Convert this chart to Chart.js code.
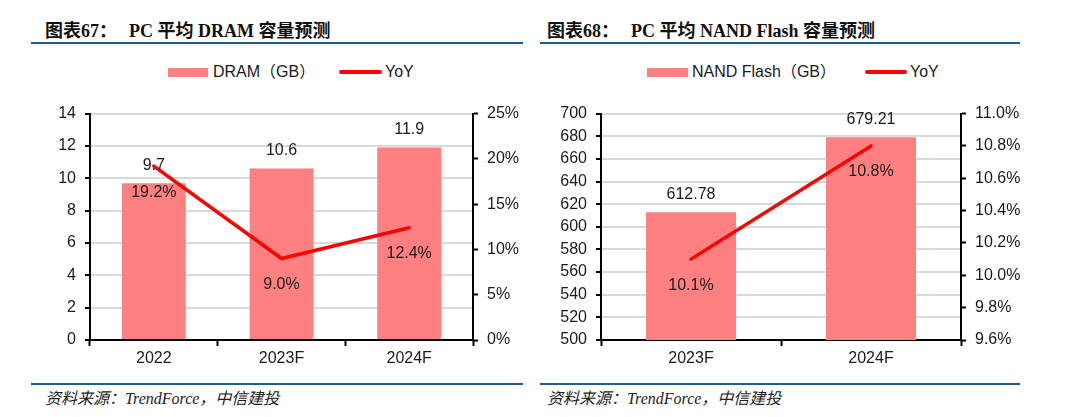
<!DOCTYPE html>
<html>
<head>
<meta charset="utf-8">
<script src="https://cdn.jsdelivr.net/npm/chart.js@4.4.0/dist/chart.umd.min.js"></script>
<style>
	body { margin: 0; width: 1080px; height: 417px; background: #fff; position: relative; overflow: hidden;
		font-family: "Liberation Sans", Arial, "Noto Sans CJK SC", sans-serif; color: #1a1a1a; }
	.title { position: absolute; top: 16px; font: bold 18px "Liberation Serif", "Noto Sans CJK SC", serif; color: #111; white-space: nowrap; }
	.title span { margin-right: 12px; }
	.rule { position: absolute; height: 2px; background: #1d5b91; }
	.src { position: absolute; top: 385px; font: italic 16px "Liberation Serif", "Noto Sans CJK SC", serif; color: #222; white-space: nowrap; }
	.lgBox { position: absolute; top: 68px; height: 9px; background: #ff8080; }
	.lgLine { position: absolute; top: 70px; height: 4px; border-radius: 2px; background: #ff0000; }
	.lgText { position: absolute; top: 63px; font-size: 16px; line-height: 18px; white-space: nowrap; color: #1a1a1a; }
	.chartBox { position: absolute; top: 95px; width: 540px; height: 280px; }
</style>
</head>
<body>

<!-- 图表67 -->
<div class="title" style="left:45px;"><span>图表67：</span>PC 平均 DRAM 容量预测</div>
<div class="rule" style="left:31px; width:492px; top:42px;"></div>
<div class="lgBox" style="left:168px; width:40px;"></div>
<div class="lgText" style="left:213px;">DRAM（GB）</div>
<div class="lgLine" style="left:339px; width:43px;"></div>
<div class="lgText" style="left:385px;">YoY</div>
<div class="chartBox" style="left:0px;"><canvas id="dramChart" width="540" height="280"></canvas></div>
<div class="rule" style="left:31px; width:492px; top:383px;"></div>
<div class="src" style="left:45px;">资料来源：TrendForce，中信建投</div>

<!-- 图表68 -->
<div class="title" style="left:547px;"><span>图表68：</span>PC 平均 NAND Flash 容量预测</div>
<div class="rule" style="left:540px; width:480px; top:42px;"></div>
<div class="lgBox" style="left:647px; width:41px;"></div>
<div class="lgText" style="left:692px;">NAND Flash（GB）</div>
<div class="lgLine" style="left:865px; width:42px;"></div>
<div class="lgText" style="left:910px;">YoY</div>
<div class="chartBox" style="left:540px;"><canvas id="nandChart" width="540" height="280"></canvas></div>
<div class="rule" style="left:540px; width:480px; top:383px;"></div>
<div class="src" style="left:547px;">资料来源：TrendForce，中信建投</div>

<script>
	// DRAM 데이터
	var dramYears = ["2022", "2023F", "2024F"];
	var dramGB = [9.7, 10.6, 11.9];
	var dramYoY = [19.2, 9.0, 12.4];

	// NAND Flash 데이터
	var nandYears = ["2023F", "2024F"];
	var nandGB = [612.78, 679.21];
	var nandYoY = [10.1, 10.8];

	var FONT = '"Liberation Sans", Arial, sans-serif';
	var BAR_COLOR = "#ff8080";
	var LINE_COLOR = "#ff0000";

	// 값 라벨 그리기 plugin
	var valueLabelPlugin = {
		id: "valueLabel",
		afterDatasetsDraw: function(chart) {
			var ctx = chart.ctx;
			var opt = chart.options.plugins.valueLabel;
			ctx.save();
			ctx.font = "16px " + FONT;
			ctx.fillStyle = "#1a1a1a";
			ctx.textAlign = "center";
			ctx.textBaseline = "middle";
			chart.data.datasets.forEach(function(ds, i) {
				var meta = chart.getDatasetMeta(i);
				meta.data.forEach(function(el, j) {
					if (ds.type === "line") {
						ctx.fillText(ds.data[j].toFixed(1) + "%", el.x, el.y + 26);
					} else {
						ctx.fillText(ds.data[j].toFixed(opt.barDigits), el.x, el.y - 18);
					} // end else
				}); // end forEach
			}); // end forEach
			ctx.restore();
		}
	}; // valueLabelPlugin

	// 막대 + 꺾은선 chart 생성
	function makeChart(canvasId, labels, barData, lineData, cfg) {
		return new Chart(document.getElementById(canvasId), {
			data: {
				labels: labels,
				datasets: [{
					type: "line",
					data: lineData,
					yAxisID: "y1",
					borderColor: LINE_COLOR,
					borderWidth: 3.5,
					borderCapStyle: "round",
					pointRadius: 0,
					tension: 0,
					order: 0
				}, {
					type: "bar",
					data: barData,
					yAxisID: "y",
					backgroundColor: BAR_COLOR,
					barPercentage: 1,
					categoryPercentage: 0.5,
					order: 1
				}]
			},
			options: {
				responsive: false,
				animation: false,
				devicePixelRatio: 1,
				layout: { padding: { top: 15, left: 0, right: 0, bottom: 0 } },
				plugins: {
					legend: { display: false },
					tooltip: { enabled: false },
					valueLabel: { barDigits: cfg.barDigits }
				},
				scales: {
					x: {
						offset: true,
						grid: { offset: true, drawOnChartArea: false, drawTicks: true, tickLength: 6, tickColor: "#000", tickWidth: 2 },
						border: { color: "#000", width: 2 },
						ticks: { color: "#1a1a1a", font: { family: FONT, size: 16 }, padding: 3 },
						afterFit: function(scale) { scale.height = 35; }
					},
					y: {
						position: "left",
						min: cfg.min, max: cfg.max,
						grid: { color: "#d9d9d9", lineWidth: 2, tickColor: "#000", tickLength: 5, tickWidth: 2 },
						border: { color: "#000", width: 2 },
						ticks: { stepSize: cfg.step, color: "#1a1a1a", font: { family: FONT, size: 16 }, padding: 9 },
						afterFit: function(scale) { scale.width = cfg.leftW; }
					},
					y1: {
						position: "right",
						min: cfg.min1, max: cfg.max1,
						grid: { drawOnChartArea: false, tickColor: "#000", tickLength: 5, tickWidth: 2 },
						border: { color: "#000", width: 2 },
						ticks: {
							stepSize: cfg.step1, color: "#1a1a1a", font: { family: FONT, size: 16 }, padding: 9,
							callback: function(v) { return v.toFixed(cfg.pctDigits) + "%"; }
						},
						afterFit: function(scale) { scale.width = cfg.rightW; }
					}
				}
			},
			plugins: [valueLabelPlugin]
		}); // end chart
	} // makeChart

	makeChart("dramChart", dramYears, dramGB, dramYoY, {
		min: 0, max: 14, step: 2, min1: 0, max1: 25, step1: 5, pctDigits: 0,
		leftW: 90, rightW: 67, barDigits: 1
	});

	makeChart("nandChart", nandYears, nandGB, nandYoY, {
		min: 500, max: 700, step: 20, min1: 9.6, max1: 11.0, step1: 0.2, pctDigits: 1,
		leftW: 61, rightW: 119, barDigits: 2
	});
</script>
</body>
</html>
